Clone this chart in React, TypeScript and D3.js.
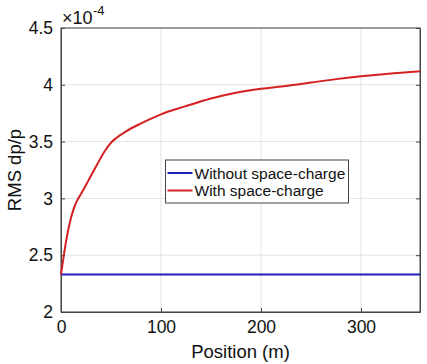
import React, { useEffect, useRef } from "react";
import * as d3 from "d3";

// position along the line (m)
const positions = [0, 2, 5, 10, 15, 18, 22, 27, 35, 44, 50, 55, 65, 80, 100, 124, 150, 175, 200, 225, 250, 275, 300, 330, 359];
// RMS dp/p (x1e-4) with space-charge
const withSC = [2.33, 2.45, 2.62, 2.83, 2.96, 3.01, 3.07, 3.15, 3.28, 3.42, 3.49, 3.53, 3.59, 3.66, 3.74, 3.81, 3.88, 3.93, 3.965, 3.99, 4.02, 4.05, 4.075, 4.1, 4.12];
// without space-charge: flat
const withoutSC = [2.33, 2.33];
const withoutPos = [0, 359];
const xTicks = [0, 100, 200, 300];
const yTicks = [2, 2.5, 3, 3.5, 4, 4.5];
const legendLabels = ["Without space-charge", "With space-charge"];

const App = () => {
  const ref = useRef<SVGSVGElement>(null);

  useEffect(() => {
    const svg = d3.select(ref.current);
    svg.selectAll("*").remove();

    const margin = { top: 28, right: 7, bottom: 52, left: 61 };
    const width = 427 - margin.left - margin.right;
    const height = 364 - margin.top - margin.bottom;
    const font = "'Liberation Sans', Arial, sans-serif";

    const g = svg.append("g").attr("transform", `translate(${margin.left},${margin.top})`);

    const x = d3.scaleLinear().domain([0, 359]).range([0, width]);
    const y = d3.scaleLinear().domain([2, 4.5]).range([height, 0]);

    // grid
    g.append("g")
      .selectAll("line.gx")
      .data(xTicks)
      .enter()
      .append("line")
      .attr("x1", (d) => x(d))
      .attr("x2", (d) => x(d))
      .attr("y1", 0)
      .attr("y2", height)
      .attr("stroke", "#e3e3e3")
      .attr("stroke-width", 1);
    g.append("g")
      .selectAll("line.gy")
      .data(yTicks)
      .enter()
      .append("line")
      .attr("x1", 0)
      .attr("x2", width)
      .attr("y1", (d) => y(d))
      .attr("y2", (d) => y(d))
      .attr("stroke", "#e3e3e3")
      .attr("stroke-width", 1);

    // box
    g.append("rect")
      .attr("width", width)
      .attr("height", height)
      .attr("fill", "none")
      .attr("stroke", "#444")
      .attr("stroke-width", 1);

    // axes (ticks inside)
    const xAxis = g
      .append("g")
      .attr("transform", `translate(0,${height})`)
      .call(d3.axisBottom(x).tickValues(xTicks).tickSizeInner(-4).tickSizeOuter(0).tickPadding(9));
    const yAxis = g
      .append("g")
      .call(d3.axisLeft(y).tickValues(yTicks).tickFormat(d3.format("")).tickSizeInner(-4).tickSizeOuter(0).tickPadding(8));
    [xAxis, yAxis].forEach((a) => {
      a.select(".domain").attr("stroke", "#444");
      a.selectAll(".tick line").attr("stroke", "#444");
      a.selectAll("text").attr("font-family", font).attr("font-size", 17.5).attr("fill", "#111");
    });
    // right side ticks
    g.append("g")
      .attr("transform", `translate(${width},0)`)
      .call(d3.axisRight(y).tickValues(yTicks).tickSizeInner(-4).tickSizeOuter(0).tickFormat(() => ""))
      .call((a) => a.select(".domain").attr("stroke", "#444"))
      .call((a) => a.selectAll(".tick line").attr("stroke", "#444"));

    // lines
    const line = d3
      .line<[number, number]>()
      .x((d) => x(d[0]))
      .y((d) => y(d[1]))
      .curve(d3.curveMonotoneX);

    g.append("path")
      .datum(withoutPos.map((p, i) => [p, withoutSC[i]] as [number, number]))
      .attr("fill", "none")
      .attr("stroke", "#1f1fbf")
      .attr("stroke-width", 2)
      .attr("d", line);

    g.append("path")
      .datum(positions.map((p, i) => [p, withSC[i]] as [number, number]))
      .attr("fill", "none")
      .attr("stroke", "#d42020")
      .attr("stroke-width", 2)
      .attr("d", line);

    // exponent
    svg.append("text")
      .attr("x", 62)
      .attr("y", 24)
      .attr("font-family", font)
      .style("font-size", "18px")
      .attr("fill", "#111")
      .text("×10");
    svg.append("text")
      .attr("x", 93)
      .attr("y", 15)
      .attr("font-family", font)
      .style("font-size", "13px")
      .attr("fill", "#111")
      .text("-4");

    // axis labels
    svg.append("text")
      .attr("x", margin.left + width / 2)
      .attr("y", 358)
      .attr("text-anchor", "middle")
      .attr("font-family", font)
      .attr("font-size", 18.5)
      .attr("fill", "#111")
      .text("Position (m)");
    svg.append("text")
      .attr("transform", `translate(21,${margin.top + height / 2}) rotate(-90)`)
      .attr("text-anchor", "middle")
      .attr("font-family", font)
      .attr("font-size", 18.5)
      .attr("fill", "#111")
      .text("RMS dp/p");

    // legend
    const lg = svg.append("g").attr("transform", "translate(165.5,160)");
    lg.append("rect")
      .attr("width", 183)
      .attr("height", 43)
      .attr("fill", "white")
      .attr("stroke", "#444")
      .attr("stroke-width", 1);
    const colors = ["#1f1fbf", "#d42020"];
    legendLabels.forEach((lab, i) => {
      const yy = 13 + i * 17.5;
      lg.append("line")
        .attr("x1", 2)
        .attr("x2", 27)
        .attr("y1", yy)
        .attr("y2", yy)
        .attr("stroke", colors[i])
        .attr("stroke-width", 2);
      lg.append("text")
        .attr("x", 29)
        .attr("y", yy + 5.5)
        .attr("font-family", font)
        .attr("font-size", 15.5)
        .attr("fill", "#111")
        .text(lab);
    });
  }, []);

  return (
    <svg
      ref={ref}
      width={427}
      height={364}
      style={{ position: "absolute", left: 0, top: 0, background: "white" }}
    />
  );
};

export default App;
